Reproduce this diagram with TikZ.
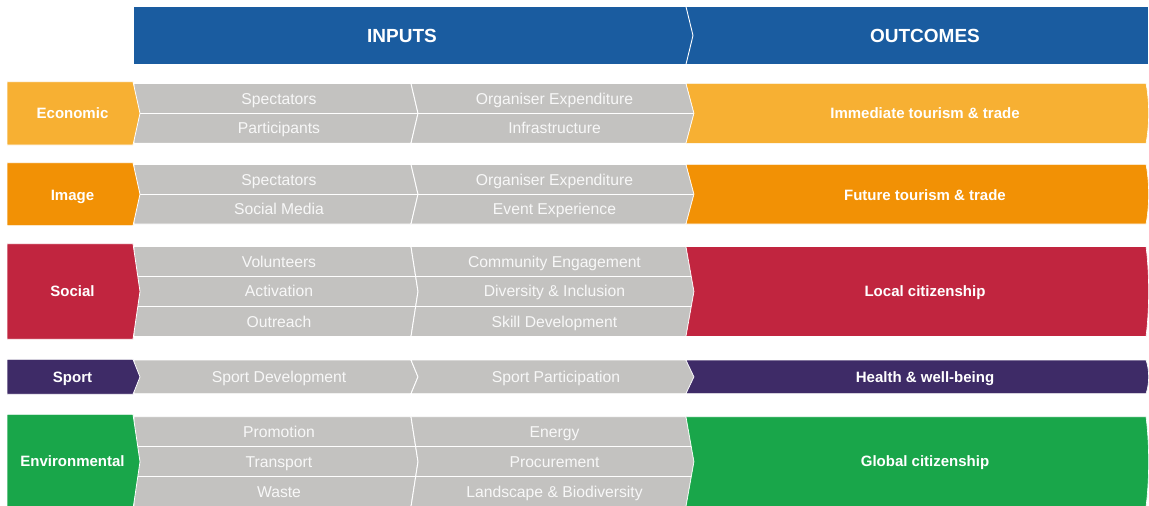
\documentclass[tikz,border=0pt]{standalone}
\usepackage{fontspec}
\setmainfont{Liberation Sans}
\definecolor{hdrblue}{RGB}{26,92,160}
\definecolor{econcol}{RGB}{247,176,51}
\definecolor{imgcol}{RGB}{242,145,5}
\definecolor{soccol}{RGB}{193,37,63}
\definecolor{sportcol}{RGB}{62,43,103}
\definecolor{envcol}{RGB}{25,166,74}
\definecolor{cellgray}{RGB}{195,194,192}
\definecolor{celltxt}{RGB}{248,248,248}
\tikzset{
  cell/.style={fill=cellgray, draw=white, line width=0.9pt, line join=miter},
  divider/.style={draw=white, line width=0.9pt},
  celltext/.style={text=celltxt, font=\fontsize{15.7}{18}\selectfont, inner sep=0pt, text height=11.2pt, text depth=0pt},
  labeltext/.style={text=white, font=\fontsize{15}{18}\selectfont\bfseries, inner sep=0pt, text height=10.7pt, text depth=0pt},
  hdrtext/.style={text=white, font=\fontsize{19}{22}\selectfont\bfseries, inner sep=0pt, text height=13.6pt, text depth=0pt},
}
\newcommand\graycells[2]{%
  \path[cell] (134,#1) -- (411,#1) -- (418,{(#1+#2)/2}) -- (411,#2) -- (134,#2) -- cycle;
  \path[cell] (411,#1) -- (686,#1) -- (694,{(#1+#2)/2}) -- (686,#2) -- (411,#2) -- (418,{(#1+#2)/2}) -- cycle;
}
\newcommand\outcomebox[3]{%
  \path[fill=#3, draw=white, line width=0.6pt] (686,#1) -- (1146,#1)
    .. controls (1149.5,{#1+0.3*(#2-#1)}) and (1149.5,{#1+0.7*(#2-#1)}) .. (1146,#2)
    -- (686,#2) -- (694,{(#1+#2)/2}) -- cycle;
}
\newcommand\labelbox[4]{%
  \path[fill=#4, draw=white, line width=0.8pt] (7,#1) -- (133,#1) -- (140,#3) -- (133,#2) -- (7,#2) -- cycle;
}
\begin{document}
\begin{tikzpicture}[x=1pt, y=-1pt]
\useasboundingbox (0,0) rectangle (1149,506);
\clip (0,0) rectangle (1149,506);
% header
\path[fill=hdrblue] (134,6.7) rectangle (1148,64.3);
\draw[white, line width=0.9pt] (686,6.7) -- (693,35.5) -- (686,64.3);
\node[hdrtext] (inputs) at (402,35.5) {INPUTS};
\node[hdrtext] (outcomes) at (925,35.5) {OUTCOMES};

% Economic
\graycells{83.3}{143.3}
\draw[divider] (134,113.3) -- (700,113.3);
\outcomebox{83.3}{143.3}{econcol}
\labelbox{81.7}{145}{113.3}{econcol}
\node[labeltext] (econ) at (72.5,113.3) {Economic};
\node[celltext] (e11) at (279,98.8) {Spectators};
\node[celltext] (e12) at (279,128.3) {Participants};
\node[celltext] (e21) at (554.5,98.8) {Organiser Expenditure};
\node[celltext] (e22) at (554.5,128.3) {Infrastructure};
\node[labeltext] (eout) at (925,113.3) {Immediate tourism \& trade};

% Image
\graycells{164.3}{224}
\draw[divider] (134,194.2) -- (700,194.2);
\outcomebox{164.3}{224}{imgcol}
\labelbox{162.7}{225.7}{194.2}{imgcol}
\node[labeltext] (img) at (72.5,195) {Image};
\node[celltext] (i11) at (279,179.7) {Spectators};
\node[celltext] (i12) at (279,208.6) {Social Media};
\node[celltext] (i21) at (554.5,179.7) {Organiser Expenditure};
\node[celltext] (i22) at (554.5,208.6) {Event Experience};
\node[labeltext] (iout) at (925,195) {Future tourism \& trade};

% Social
\graycells{246.5}{336.5}
\draw[divider] (134,276.5) -- (700,276.5);
\draw[divider] (134,306.5) -- (700,306.5);
\outcomebox{246.5}{336.5}{soccol}
\labelbox{243.7}{339.3}{291.5}{soccol}
\node[labeltext] (soc) at (72.5,291.5) {Social};
\node[celltext] (s11) at (279,262) {Volunteers};
\node[celltext] (s12) at (279,291) {Activation};
\node[celltext] (s13) at (279,321.5) {Outreach};
\node[celltext] (s21) at (554.5,262) {Community Engagement};
\node[celltext] (s22) at (554.5,291) {Diversity \& Inclusion};
\node[celltext] (s23) at (554.5,321.5) {Skill Development};
\node[labeltext] (sout) at (925,291.5) {Local citizenship};

% Sport
\graycells{360}{393.7}
\outcomebox{360}{393.7}{sportcol}
\labelbox{359.3}{394.3}{376.9}{sportcol}
\node[labeltext] (sp) at (72.5,376.9) {Sport};
\node[celltext] (p11) at (279,376.9) {Sport Development};
\node[celltext] (p21) at (556,376.9) {Sport Participation};
\node[labeltext] (pout) at (925,376.9) {Health \& well-being};

% Environmental
\graycells{416.7}{506.7}
\draw[divider] (134,446.7) -- (700,446.7);
\draw[divider] (134,476.7) -- (700,476.7);
\outcomebox{416.7}{506.7}{envcol}
\labelbox{414.3}{509.1}{461.7}{envcol}
\node[labeltext] (env) at (72.5,461) {Environmental};
\node[celltext] (v11) at (279,432.2) {Promotion};
\node[celltext] (v12) at (279,461.5) {Transport};
\node[celltext] (v13) at (279,491.5) {Waste};
\node[celltext] (v21) at (554.5,432.2) {Energy};
\node[celltext] (v22) at (554.5,461.5) {Procurement};
\node[celltext] (v23) at (554.5,491.5) {Landscape \& Biodiversity};
\node[labeltext] (vout) at (925,461) {Global citizenship};
\end{tikzpicture}
\end{document}
